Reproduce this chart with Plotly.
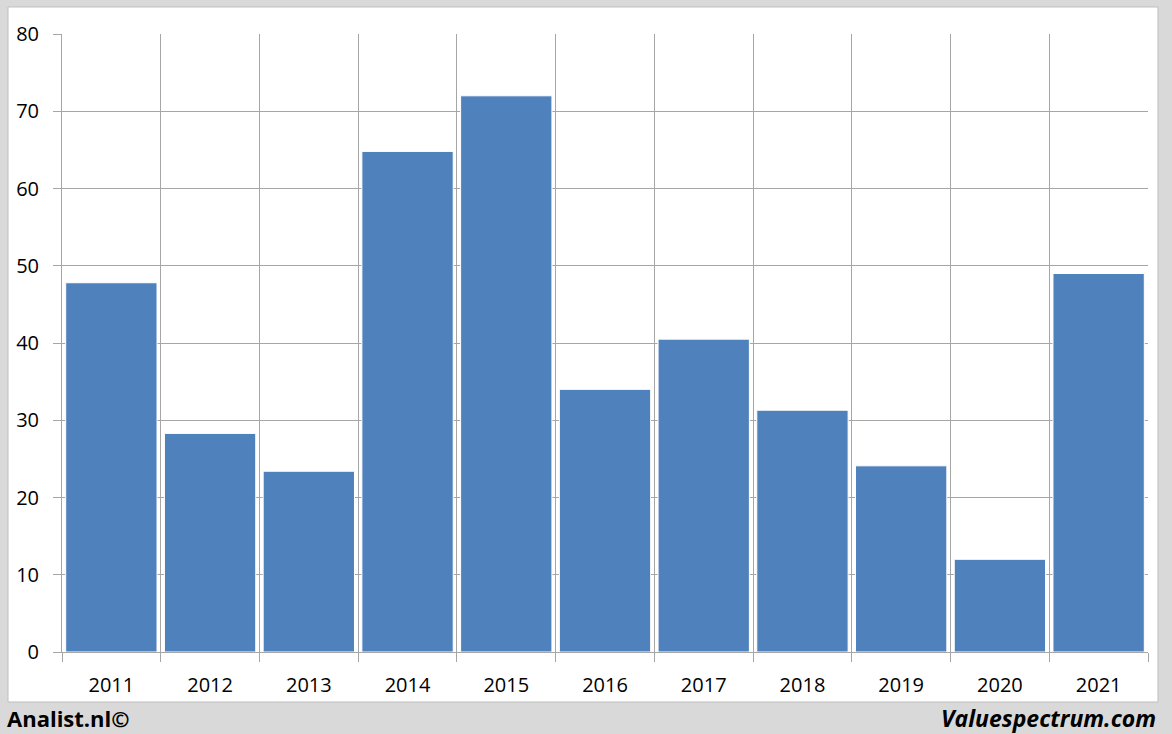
import plotly.graph_objects as go

years = ["2011", "2012", "2013", "2014", "2015", "2016", "2017", "2018", "2019", "2020", "2021"]
values = [47.8, 28.3, 23.4, 64.8, 72.0, 34.0, 40.5, 31.3, 24.1, 12.0, 49.0]
y_ticks = [0, 10, 20, 30, 40, 50, 60, 70, 80]
boundaries = [i - 0.5 for i in range(len(years) + 1)]

grid = "#a6a6a6"
fam = "Open Sans, Liberation Sans, sans-serif"
font = dict(family=fam, size=20, color="#000000")

fig = go.Figure()
fig.add_trace(go.Bar(
    x=years, y=values,
    marker=dict(color="#4f81bd", line=dict(color="#ffffff", width=1)),
    xaxis="x", yaxis="y", showlegend=False, hoverinfo="x+y",
))
# invisible trace to activate the boundary axis
fig.add_trace(go.Scatter(x=[boundaries[0], boundaries[-1]], y=[0, 0], xaxis="x2", yaxis="y",
                         mode="none", showlegend=False, hoverinfo="skip"))

fig.update_layout(
    width=1172, height=734,
    margin=dict(l=62, r=24, t=34, b=82),
    paper_bgcolor="#d9d9d9",
    plot_bgcolor="#ffffff",
    bargap=0.075,
    font=font,
    xaxis=dict(type="category", categoryorder="array", categoryarray=years,
               range=[-0.5, len(years) - 0.5],
               showgrid=False, ticks="", showline=True, linecolor=grid, linewidth=1,
               tickfont=font, ticklabelstandoff=15, zeroline=False),
    xaxis2=dict(overlaying="x", range=[boundaries[0], boundaries[-1]], tickmode="array",
                tickvals=boundaries, ticktext=[""] * len(boundaries), showgrid=True,
                gridcolor=grid, gridwidth=1, ticks="outside", ticklen=9, tickcolor=grid,
                side="bottom", showline=False, zeroline=False, layer="below traces"),
    yaxis=dict(range=[0, 80], tickmode="array", tickvals=y_ticks, showgrid=True,
               gridcolor=grid, gridwidth=1, ticks="outside", ticklen=8, tickcolor=grid,
               showline=True, linecolor=grid, linewidth=1, zeroline=False,
               tickfont=font, ticklabelstandoff=10),
    shapes=[dict(type="rect", xref="paper", yref="paper", x0=-0.0497, x1=1.0092,
                 y0=-0.0809, y1=1.0437, fillcolor="#ffffff",
                 line=dict(color="#bfbfbf", width=1), layer="below")],
    annotations=[
        dict(text="<b>Analist.nl©</b>", xref="paper", yref="paper", x=-0.0525, y=-0.107,
             xanchor="left", yanchor="middle", showarrow=False,
             font=dict(family=fam, size=22, color="#000000")),
        dict(text="<b><i>Valuespectrum.com</i></b>", xref="paper", yref="paper", x=1.0092, y=-0.107,
             xanchor="right", yanchor="middle", showarrow=False,
             font=dict(family=fam, size=23, color="#000000")),
    ],
)

fig.write_html("out.html", config={"displayModeBar": False},
               post_script="document.body.style.margin='0';document.body.style.overflow='hidden';")
